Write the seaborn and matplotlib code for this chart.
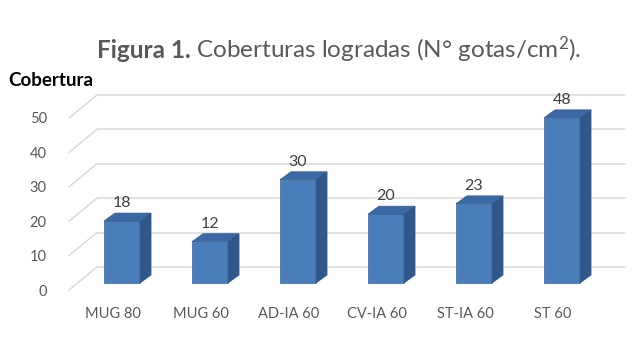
import matplotlib
matplotlib.use("Agg")
import matplotlib.pyplot as plt
from matplotlib.patches import Polygon
from matplotlib.transforms import ScaledTranslation
import seaborn as sns

# DATA
categories = ['MUG 80', 'MUG 60', 'AD-IA 60', 'CV-IA 60', 'ST-IA 60', 'ST 60']
coverage = [18, 12, 30, 20, 23, 48]
y_ticks = [0, 10, 20, 30, 40, 50]

# COLORS
front_col, side_col, top_col = '#4a7ebb', '#30578a', '#3b69a6'
grid_col = '#d9d9d9'
text_col = '#595959'

sns.set_style('white')
plt.rcParams['font.family'] = ['Lato', 'DejaVu Sans']
plt.rcParams['mathtext.fontset'] = 'custom'
plt.rcParams['mathtext.rm'] = 'Lato'
plt.rcParams['mathtext.it'] = 'Lato'

fig = plt.figure(figsize=(6.4, 3.6), dpi=100)
# front plane of the 3D box, in pixels: left 69, bottom 70
ax = fig.add_axes([69 / 640, 70 / 360, 528 / 640, 172 / 360])

sns.barplot(x=categories, y=coverage, color=front_col, width=0.41,
            saturation=1, ax=ax, zorder=3)
ax.set_xlim(-0.5, 5.5)
ax.set_ylim(0, 50)

# pixel -> data conversion
px_x = 528 / 6.0
px_y = 172 / 50.0

# BACK WALL GRIDLINES + DIAGONALS
wall_dx, wall_dy = 28 / px_x, 23 / px_y
for v in y_ticks:
    ax.plot([-0.5 + wall_dx, 5.5 + wall_dx], [v + wall_dy, v + wall_dy],
            color=grid_col, lw=1.1, zorder=1, clip_on=False)
    ax.plot([-0.5, -0.5 + wall_dx], [v, v + wall_dy],
            color=grid_col, lw=1.1, zorder=1, clip_on=False)

# 3D BARS: shift front faces half way into the box, add side and top
shift = ScaledTranslation(9 / 100, 7 / 100, fig.dpi_scale_trans)
bar_dx, bar_dy = 11 / px_x, 8 / px_y
for p in ax.patches:
    x0, w, h = p.get_x(), p.get_width(), p.get_height()
    tr = ax.transData + shift
    p.set_transform(tr)
    p.set_clip_on(False)
    p.set_edgecolor('#3a659c')
    p.set_linewidth(0.5)
    side = Polygon([(x0 + w, 0), (x0 + w + bar_dx, bar_dy),
                    (x0 + w + bar_dx, h + bar_dy), (x0 + w, h)],
                   closed=True, facecolor=side_col, edgecolor=side_col,
                   lw=0.5, transform=tr, clip_on=False, zorder=3)
    top = Polygon([(x0, h), (x0 + w, h), (x0 + w + bar_dx, h + bar_dy),
                   (x0 + bar_dx, h + bar_dy)],
                  closed=True, facecolor=top_col, edgecolor=side_col,
                  lw=0.5, transform=tr, clip_on=False, zorder=3)
    ax.add_patch(side)
    ax.add_patch(top)
    ax.text(x0 + w / 2, h + bar_dy + 3 / px_y, f'{h:.0f}', transform=tr,
            ha='center', va='bottom', fontsize=11.5, color='#404040',
            clip_on=False)

# AXES STYLE
sns.despine(ax=ax, left=True, bottom=True)
ax.set_yticks(y_ticks)
ax.set_yticklabels([str(v) for v in y_ticks])
ax.tick_params(axis='y', length=0, pad=16, labelsize=10.5, labelcolor=text_col)
ax.tick_params(axis='x', length=0, pad=12, labelsize=10.5, labelcolor=text_col)
ax.set_xlabel('')
ax.set_ylabel('')
ax.grid(False)

# TITLE (bold + regular part)
fig.canvas.draw()
renderer = fig.canvas.get_renderer()
t1 = fig.text(0, 302 / 360, 'Figura 1.', fontsize=17.5, weight='bold',
              color=text_col, va='baseline', ha='left')
t2 = fig.text(0, 302 / 360, ' Coberturas logradas (N° gotas/cm$^2$).',
              fontsize=17.5, color=text_col, va='baseline', ha='left')
w1 = t1.get_window_extent(renderer).width
w2 = t2.get_window_extent(renderer).width
x_start = 339 - (w1 + w2) / 2
t1.set_x(x_start / 640)
t2.set_x((x_start + w1) / 640)

fig.text(8 / 640, 280 / 360, 'Cobertura', fontsize=13.5, weight='bold',
         color='black', va='center', ha='left')

fig.savefig('out.png', dpi=100)
